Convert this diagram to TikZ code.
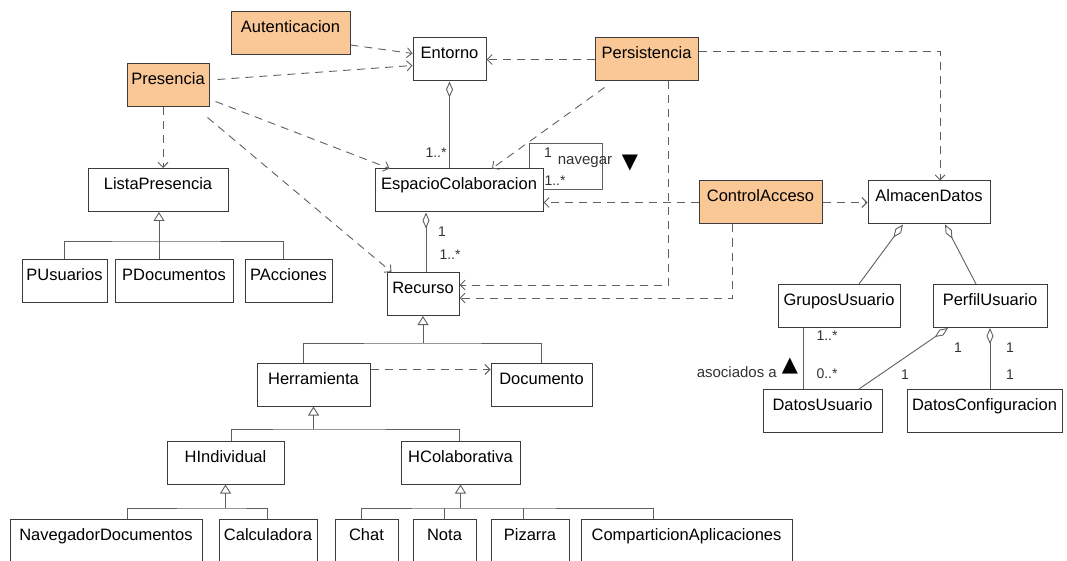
\documentclass[tikz,border=0pt]{standalone}
\usepackage{fontspec}
\setmainfont{Liberation Sans}
\newfontfamily\symfont{DejaVu Sans}
\usetikzlibrary{arrows.meta}
\definecolor{peach}{RGB}{250,199,150}
\definecolor{boxline}{RGB}{60,60,60}
\definecolor{wire}{RGB}{95,95,95}

\begin{document}
\begin{tikzpicture}[x=1pt, y=-1pt,
    cls/.style={draw=boxline, line width=1pt, fill=white, inner xsep=2pt, inner ysep=0pt,
      text height=21pt, text depth=22pt, font=\fontsize{16.5}{18}\selectfont},
    act/.style={cls, fill=peach},
    dep/.style={draw=wire, line width=0.9pt, dash pattern=on 8pt off 6pt,
      -{Straight Barb[length=5pt,width=10pt]}},
    gen/.style={draw=wire, line width=0.9pt, -{Triangle[open,length=9pt,width=11pt]}},
    tree/.style={draw=wire, line width=0.9pt},
    agg/.style={draw=wire, line width=0.9pt, {Diamond[open,length=16pt,width=7pt]}-},
    mult/.style={font=\fontsize{14}{16}\selectfont, text=black!80, inner sep=0pt},
    dir/.style={font=\symfont\fontsize{21}{21}\selectfont, inner sep=0pt}]

    \useasboundingbox (0,0) rectangle (1067,561);

    % Aspectos
    \node[act, minimum width=119pt] (Autenticacion) at (290.5,33) {Autenticacion};
    \node[act, minimum width=82pt] (Presencia) at (168,85.5) {Presencia};
    \node[act, minimum width=103pt] (Persistencia) at (646.5,59.5) {Persistencia};
    \node[act, minimum width=123pt] (ControlAcceso) at (760.5,202.5) {ControlAcceso};

    % Clases
    \node[cls, minimum width=73pt] (Entorno) at (449.5,59.5) {Entorno};
    \node[cls, minimum width=140pt] (ListaPresencia) at (158,190) {ListaPresencia};
    \node[cls, minimum width=168pt] (EspacioColaboracion) at (459,190.5) {EspacioColaboracion};
    \node[cls, minimum width=122pt] (AlmacenDatos) at (929,202.5) {AlmacenDatos};
    \node[cls, minimum width=85pt] (PUsuarios) at (64.5,280.5) {PUsuarios};
    \node[cls, minimum width=118pt] (PDocumentos) at (174,280.5) {PDocumentos};
    \node[cls, minimum width=87pt] (PAcciones) at (288.5,280.5) {PAcciones};
    \node[cls, minimum width=72pt] (Recurso) at (423,294) {Recurso};
    \node[cls, minimum width=122pt] (GruposUsuario) at (839,306) {GruposUsuario};
    \node[cls, minimum width=114pt] (PerfilUsuario) at (990,306) {PerfilUsuario};
    \node[cls, minimum width=113pt] (Herramienta) at (313.5,384.5) {Herramienta};
    \node[cls, minimum width=101pt] (Documento) at (541.5,384.5) {Documento};
    \node[cls, minimum width=119pt] (DatosUsuario) at (822.5,411) {DatosUsuario};
    \node[cls, minimum width=155pt] (DatosConfiguracion) at (984.5,411) {DatosConfiguracion};
    \node[cls, minimum width=117pt] (HIndividual) at (225.5,462.5) {HIndividual};
    \node[cls, minimum width=119pt] (HColaborativa) at (460.5,462.5) {HColaborativa};

    % Herramientas concretas
    \node[cls, minimum width=192pt] (NavegadorDocumentos) at (106,540.5) {NavegadorDocumentos};
    \node[cls, minimum width=98pt] (Calculadora) at (268,540.5) {Calculadora};
    \node[cls, minimum width=63pt] (Chat) at (366.5,540.5) {Chat};
    \node[cls, minimum width=63pt] (Nota) at (444.5,540.5) {Nota};
    \node[cls, minimum width=78pt] (Pizarra) at (530,540.5) {Pizarra};
    \node[cls, minimum width=211pt] (ComparticionAplicaciones) at (686.5,540.5) {ComparticionAplicaciones};

    % Herencia
    \coordinate (busLP) at (159,241);
    \draw[gen] (busLP) -- (busLP |- ListaPresencia.south);
    \draw[tree] (PUsuarios.north) |- (busLP) -| ([xshift=-5.5pt]PAcciones.north);
    \draw[tree] (busLP) -- (busLP |- PDocumentos.north);

    \coordinate (busR) at (423,343);
    \draw[gen] (busR) -- (Recurso.south);
    \draw[tree] ([xshift=-10.5pt]Herramienta.north) |- (busR) -| (Documento.north);

    \coordinate (busH) at (313.5,429);
    \draw[gen] (busH) -- (Herramienta.south);
    \draw[tree] ([xshift=5.5pt]HIndividual.north) |- (busH) -| ([xshift=-1.5pt]HColaborativa.north);

    \coordinate (busHI) at (225.5,508);
    \draw[gen] (busHI) -- (HIndividual.south);
    \draw[tree] ([xshift=21pt]NavegadorDocumentos.north) |- (busHI) -| ([xshift=-1pt]Calculadora.north);

    \coordinate (busHC) at (460.5,508);
    \draw[gen] (busHC) -- (HColaborativa.south);
    \draw[tree] ([xshift=-5.5pt]Chat.north) |- (busHC) -| ([xshift=-33.5pt]ComparticionAplicaciones.north);
    \draw[tree] (Nota.north) -- (Nota.north |- busHC);
    \draw[tree] ([xshift=-7pt]Pizarra.north) -- ([xshift=-7pt]Pizarra.north |- busHC);

    % Agregaciones y asociaciones
    \draw[agg] (Entorno.south) -- (Entorno.south |- EspacioColaboracion.north);
    \draw[agg] ([xshift=3pt]EspacioColaboracion.south -| Recurso.north) -- ([xshift=3pt]Recurso.north);
    \draw[agg] ([xshift=-26pt]AlmacenDatos.south) -- ([xshift=20pt]GruposUsuario.north);
    \draw[agg] ([xshift=16pt]AlmacenDatos.south) -- ([xshift=-14pt]PerfilUsuario.north);
    \draw[agg] ([xshift=-42pt]PerfilUsuario.south) -- ([xshift=36.5pt]DatosUsuario.north);
    \draw[agg] (PerfilUsuario.south) -- (PerfilUsuario.south |- DatosConfiguracion.north);
    \draw[tree] ([xshift=-36pt]GruposUsuario.south) -- ([xshift=-36pt]GruposUsuario.south |- DatosUsuario.north);
    \draw[tree] ([xshift=-14pt]EspacioColaboracion.north east) |- (602,143)
        |- ([yshift=1.5pt]EspacioColaboracion.east);

    % Dependencias
    \draw[dep] ([yshift=-12pt]Autenticacion.east) -- ([yshift=6pt]Entorno.west);
    \draw[dep] ([xshift=8pt,yshift=6pt]Presencia.east) -- ([yshift=-6pt]Entorno.west);
    \draw[dep] (Persistencia.west) -- (Entorno.east);
    \draw[dep] ([xshift=6pt,yshift=-16pt]Presencia.east) -- ([xshift=15pt]EspacioColaboracion.north west);
    \draw[dep] ([xshift=-2pt,yshift=-10pt]Presencia.south east) -- ([xshift=5pt]Recurso.north west);
    \draw[dep] ([xshift=-5pt]Presencia.south) -- ([xshift=-5pt]Presencia.south |- ListaPresencia.north);
    \draw[dep] ([xshift=10pt,yshift=-6pt]Persistencia.south west) -- ([xshift=33pt]EspacioColaboracion.north);
    \draw[dep] ([yshift=8pt]Persistencia.east) -| ([xshift=11pt]AlmacenDatos.north);
    \draw[dep] ([xshift=22pt]Persistencia.south) |- ([yshift=9pt]Recurso.east);
    \draw[dep] (ControlAcceso.west) -- (ControlAcceso.west -| EspacioColaboracion.east);
    \draw[dep] ([xshift=-28.5pt]ControlAcceso.south) |- ([yshift=-4pt]Recurso.east);
    \draw[dep] (ControlAcceso.east) -- (AlmacenDatos.west);
    \draw[dep] ([yshift=15pt]Herramienta.east) -- ([yshift=15pt]Documento.west);

    % Multiplicidades
    \node[mult] (mEntorno) at (436,153) {1..*};
    \node[mult] (mEspA) at (442,232) {1};
    \node[mult] (mEspB) at (450,255) {1..*};
    \node[mult] (mNavA) at (548,153) {1};
    \node[mult] (mNavB) at (555,181) {1..*};
    \node[mult, font=\fontsize{15}{17}\selectfont] (navegar) at (585,162) {navegar};
    \node[dir] (navDir) at (630,163) {▼};
    \node[mult] (mGrupos) at (827,336) {1..*};
    \node[mult] (mDatos) at (827,374) {0..*};
    \node[mult, anchor=east, font=\fontsize{15}{17}\selectfont] (asociados) at (777,372) {asociados a};
    \node[dir] (asocDir) at (790,366) {▲};
    \node[mult] (mPerfilA) at (958,348) {1};
    \node[mult] (mPerfilB) at (905,375) {1};
    \node[mult] (mConfA) at (1010,348) {1};
    \node[mult] (mConfB) at (1010,375) {1};

\end{tikzpicture}
\end{document}
